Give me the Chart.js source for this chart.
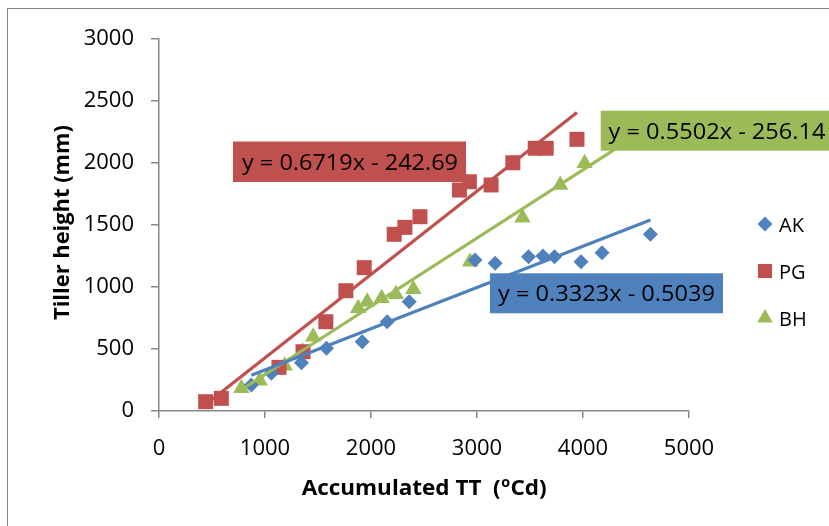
<!DOCTYPE html>
<html>
<head>
<meta charset="utf-8">
<script src="https://cdn.jsdelivr.net/npm/chart.js@4.4.1/dist/chart.umd.min.js"></script>
<style>
  html, body { margin: 0; padding: 0; background: #fff; }
  #wrap { width: 829px; height: 526px; position: relative; }
</style>
</head>
<body>
<div id="wrap"><canvas id="c" width="829" height="526"></canvas></div>
<script>
// ---- data ----
const akX = [871, 1060, 1344, 1580, 1917, 2153, 2361, 2982, 3171, 3486, 3622, 3732, 3981, 4180, 4636];
const akY = [210, 304, 390, 506, 559, 720, 881, 1218, 1191, 1244, 1250, 1244, 1204, 1277, 1425];
const pgX = [440, 588, 1132, 1359, 1574, 1763, 1936, 2219, 2320, 2462, 2834, 2928, 3133, 3338, 3549, 3653, 3943];
const pgY = [75, 102, 352, 478, 720, 970, 1156, 1425, 1481, 1567, 1782, 1849, 1823, 2002, 2119, 2119, 2191];
const bhX = [777, 950, 1186, 1354, 1454, 1879, 1964, 2100, 2235, 2399, 2935, 3429, 3785, 4015];
const bhY = [183, 244, 365, 478, 599, 828, 881, 909, 941, 981, 1204, 1559, 1823, 1998];

const seriesNames = ['AK', 'PG', 'BH'];
const trendSlope = [0.3323, 0.6719, 0.5502];
const trendIntercept = [-0.5039, -242.69, -256.14];
const trendFrom = [871, 440, 777];
const trendTo = [4636, 3943, 4450];
const trendText = ['y = 0.3323x - 0.5039', 'y = 0.6719x - 242.69', 'y = 0.5502x - 256.14'];

const xTickValues = [0, 1000, 2000, 3000, 4000, 5000];
const yTickValues = [0, 500, 1000, 1500, 2000, 2500, 3000];
const xTitleMain = 'Accumulated TT  (';
const xTitleSup = 'o';
const xTitleEnd = 'Cd)';
const yTitle = 'Tiller height (mm)';

// ---- styling ----
const colors = ['#4F81BD', '#C0504D', '#9BBB59'];
const styles = ['rectRot', 'rect', 'triangle'];
const radii = [7.5, 10.6, 9.5];
const legendRadii = [7.5, 10, 9];
const FONT = "'Open Sans', 'Liberation Sans', sans-serif";
const AXIS = '#868686';

function pts(xs, ys) { return xs.map((x, i) => ({ x: x, y: ys[i] })); }
function trend(i) {
  return [trendFrom[i], trendTo[i]].map(x => ({ x: x, y: trendSlope[i] * x + trendIntercept[i] }));
}

const datasets = [];
const sx = [akX, pgX, bhX], sy = [akY, pgY, bhY];
for (let i = 0; i < 3; i++) {
  datasets.push({
    label: seriesNames[i], data: pts(sx[i], sy[i]), showLine: false,
    pointStyle: styles[i], pointRadius: radii[i], pointHoverRadius: radii[i],
    pointBackgroundColor: colors[i], pointBorderColor: colors[i], pointBorderWidth: 0,
    order: 2
  });
}
for (let i = 0; i < 3; i++) {
  datasets.push({
    label: 'trend ' + seriesNames[i], data: trend(i), showLine: true,
    borderColor: colors[i], borderWidth: 3.2, pointRadius: 0, fill: false,
    order: 1
  });
}

// draw text horizontally stretched to a target width
function stretchText(ctx, text, left, baseline, font, targetW) {
  ctx.save();
  ctx.font = font;
  const w = ctx.measureText(text).width;
  const k = targetW ? targetW / w : 1;
  ctx.translate(left, baseline);
  ctx.scale(k, 1);
  ctx.textAlign = 'left';
  ctx.textBaseline = 'alphabetic';
  ctx.fillText(text, 0, 0);
  ctx.restore();
}

const overlay = {
  id: 'overlay',
  afterDraw(chart) {
    const ctx = chart.ctx;
    // outer frame
    ctx.save();
    ctx.strokeStyle = AXIS; ctx.lineWidth = 1;
    ctx.strokeRect(7.5, 8.5, 900, 600);
    ctx.restore();

    // trendline labels
    const boxes = [
      { x: 490, y: 273.3, w: 233, h: 40, tl: 498, tw: 217 },
      { x: 233, y: 141.5, w: 233, h: 40.5, tl: 242, tw: 216 },
      { x: 600.7, y: 110.7, w: 240, h: 40, tl: 608.5, tw: 217 }
    ];
    for (let i = 0; i < 3; i++) {
      const b = boxes[i];
      ctx.fillStyle = colors[i];
      ctx.fillRect(b.x, b.y, b.w, b.h);
      ctx.fillStyle = '#000';
      stretchText(ctx, trendText[i], b.tl, b.y + b.h / 2 + 8, '22px ' + FONT, b.tw);
    }

    // legend
    const ly = [224, 271, 318];
    for (let i = 0; i < 3; i++) {
      ctx.save();
      ctx.fillStyle = colors[i];
      ctx.strokeStyle = colors[i];
      ctx.lineWidth = 0.01;
      Chart.helpers.drawPoint(ctx, { pointStyle: styles[i], radius: legendRadii[i], rotation: 0, borderWidth: 0 }, 765, ly[i]);
      ctx.restore();
      ctx.fillStyle = '#000';
      stretchText(ctx, seriesNames[i], 779, ly[i] + 7.5, '20px ' + FONT, null);
    }

    // x axis title
    ctx.save();
    ctx.fillStyle = '#000';
    const fb = 'bold 22px ' + FONT, fs = 'bold 14px ' + FONT;
    ctx.font = fb; const w1 = ctx.measureText(xTitleMain).width, w3 = ctx.measureText(xTitleEnd).width;
    ctx.font = fs; const w2 = ctx.measureText(xTitleSup).width;
    const total = w1 + w2 + w3 + 1;
    const k = 245 / total;
    ctx.translate(301.7, 495);
    ctx.scale(k, 1);
    ctx.textBaseline = 'alphabetic';
    ctx.font = fb; ctx.fillText(xTitleMain, 0, 0);
    ctx.font = fs; ctx.fillText(xTitleSup, w1 + 0.5, -8);
    ctx.font = fb; ctx.fillText(xTitleEnd, w1 + w2 + 1, 0);
    ctx.restore();

    // y axis title
    ctx.save();
    ctx.fillStyle = '#000';
    ctx.font = fb;
    const wy = ctx.measureText(yTitle).width;
    ctx.translate(69, 222.5);
    ctx.rotate(-Math.PI / 2);
    ctx.scale(195 / wy, 1);
    ctx.textAlign = 'center';
    ctx.textBaseline = 'alphabetic';
    ctx.fillText(yTitle, 0, 0);
    ctx.restore();
  }
};

new Chart(document.getElementById('c'), {
  type: 'scatter',
  data: { datasets: datasets },
  options: {
    responsive: false,
    animation: false,
    layout: { padding: { top: 39, right: 140, left: 0, bottom: 0 } },
    plugins: { legend: { display: false }, tooltip: { enabled: false } },
    scales: {
      x: {
        type: 'linear', min: 0, max: 5000,
        afterBuildTicks: s => { s.ticks = xTickValues.map(v => ({ value: v })); },
        ticks: { font: { family: FONT, size: 22 }, color: '#000', padding: 18, maxRotation: 0, callback: v => String(v) },
        grid: { drawOnChartArea: false, drawTicks: true, tickLength: 7, color: AXIS, lineWidth: 1.5 },
        border: { color: AXIS, width: 1.5 },
        afterFit: s => { s.height = 115; }
      },
      y: {
        type: 'linear', min: 0, max: 3000,
        afterBuildTicks: s => { s.ticks = yTickValues.map(v => ({ value: v })); },
        ticks: { font: { family: FONT, size: 22 }, color: '#000', padding: 17, callback: v => String(v) },
        grid: { drawOnChartArea: false, drawTicks: true, tickLength: 8, color: AXIS, lineWidth: 1.5 },
        border: { color: AXIS, width: 1.5 },
        afterFit: s => { s.width = 159; }
      }
    }
  },
  plugins: [overlay]
});
</script>
</body>
</html>
